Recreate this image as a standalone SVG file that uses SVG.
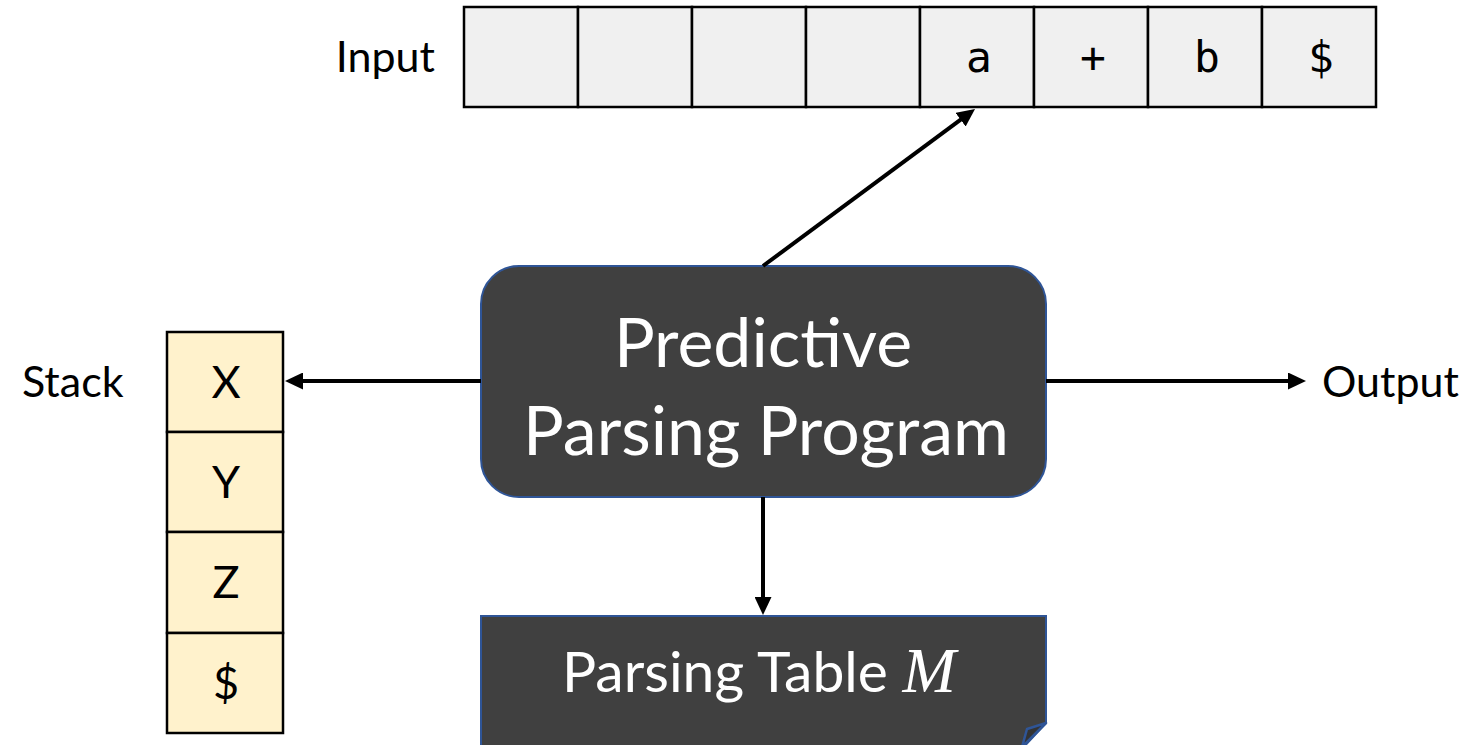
<svg xmlns="http://www.w3.org/2000/svg" width="1468" height="745" viewBox="0 0 1468 745">
<style>
.lbl{font-family:Lato,"Liberation Sans",sans-serif;font-size:43px;fill:#000}
.cell{fill:#f0f0f0;stroke:#000;stroke-width:2.5}
.sc{fill:#fff2cc;stroke:#000;stroke-width:2.5}
.ct{font-family:"DejaVu Sans Mono","Liberation Mono",monospace;font-size:43px;fill:#000;text-anchor:middle}
.st{font-family:Lato,"Liberation Sans",sans-serif;font-size:45px;fill:#000;text-anchor:middle}
.box{fill:#404040;stroke:#2f5597;stroke-width:2}
.bt{font-family:Lato,"Liberation Sans",sans-serif;font-size:68px;fill:#fff;text-anchor:middle}
.tt{font-family:Lato,"Liberation Sans",sans-serif;font-size:57px;fill:#fff}
.conn{stroke:#000;stroke-width:4;fill:none;marker-end:url(#ah)}
</style>
<defs>
<marker id="ah" markerWidth="18" markerHeight="17" refX="6" refY="8.5" orient="auto" markerUnits="userSpaceOnUse">
<path d="M0,0 L18,8.5 L0,17 z" fill="#000"/>
</marker>
</defs>
<rect width="1468" height="745" fill="#fff"/>
<g id="input">
<text class="lbl" x="435" y="72" text-anchor="end">Input</text>
<rect class="cell" x="464" y="7" width="114" height="100"/>
<rect class="cell" x="578" y="7" width="114" height="100"/>
<rect class="cell" x="692" y="7" width="114" height="100"/>
<rect class="cell" x="806" y="7" width="114" height="100"/>
<rect class="cell" x="920" y="7" width="114" height="100"/>
<rect class="cell" x="1034" y="7" width="114" height="100"/>
<rect class="cell" x="1148" y="7" width="114" height="100"/>
<rect class="cell" x="1262" y="7" width="114" height="100"/>
<text class="ct" x="979" y="72">a</text>
<text class="ct" x="1093" y="72">+</text>
<text class="ct" x="1207" y="72">b</text>
<text class="ct" x="1321" y="72">$</text>
</g>
<g id="stack">
<text class="lbl" x="22" y="397">Stack</text>
<rect class="sc" x="167" y="332" width="116" height="100"/>
<rect class="sc" x="167" y="432" width="116" height="100"/>
<rect class="sc" x="167" y="532" width="116" height="101"/>
<rect class="sc" x="167" y="633" width="116" height="100"/>
<text class="st" x="226" y="398">X</text>
<text class="st" x="226" y="498">Y</text>
<text class="st" x="226" y="598">Z</text>
<text class="st" x="226" y="699">$</text>
</g>
<g id="program">
<rect class="box" x="481" y="266" width="565" height="231" rx="38" ry="38"/>
<text class="bt" x="763" y="367">Predictive</text>
<text class="bt" x="766" y="455">Parsing Program</text>
</g>
<g id="output">
<text class="lbl" x="1322" y="397">Output</text>
</g>
<g id="table">
<path class="box" d="M481,616 L1046,616 L1046,723 L1021,750 L481,750 Z"/>
<path d="M1046,723 L1027,729 L1022,747 Z" fill="#333" stroke="#2f5597" stroke-width="2.5" stroke-linejoin="round"/>
<text class="tt" x="562" y="692">Parsing Table <tspan font-family="'Liberation Serif',serif" font-style="italic" font-size="64">M</tspan></text>
</g>
<g id="connectors">
<line class="conn" x1="763" y1="266" x2="965.4" y2="116.1"/>
<line class="conn" x1="481" y1="381" x2="297" y2="381"/>
<line class="conn" x1="1046" y1="381" x2="1294" y2="381"/>
<line class="conn" x1="763" y1="497" x2="763" y2="603"/>
</g>
</svg>
